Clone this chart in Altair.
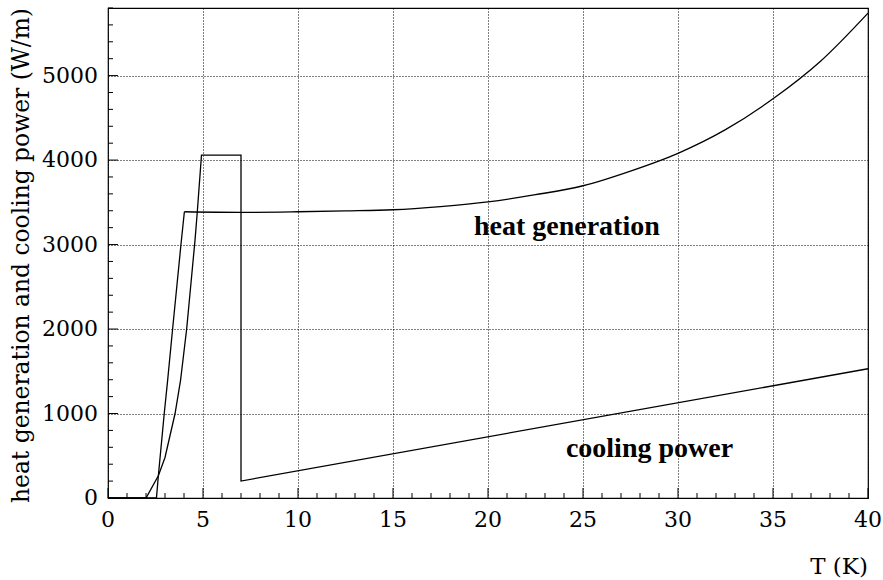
import altair as alt
import pandas as pd

# heat generation curve (T in K, W/m)
heat_T = [0, 2.55, 2.65, 2.96, 3.14, 3.4, 3.84, 4.02]
heat_Q = [0, 0, 264, 1000, 1396, 2000, 3000, 3388]
heat2_T = [4.02, 7.0, 10.0, 12.5, 15.0, 17.5, 20.0, 22.5, 25.0, 27.5, 30.0, 32.5, 35.0, 37.5, 40.0]
heat2_Q = [3388, 3381, 3388, 3398, 3412, 3450, 3505, 3590, 3696, 3870, 4080, 4360, 4725, 5170, 5740]

# cooling power curve
cool_T = [0, 2.0, 2.65, 3.0, 3.53, 3.82, 4.14, 4.58, 4.7, 4.92, 7.0, 7.0, 40.0]
cool_Q = [0, 0, 264, 480, 1000, 1396, 2000, 3053, 3388, 4059, 4059, 201, 1530]

x_major = [0, 5, 10, 15, 20, 25, 30, 35, 40]
x_minor = [v for v in range(0, 41) if v % 5 != 0]
y_major = [0, 1000, 2000, 3000, 4000, 5000]
y_minor = [v for v in range(0, 5801, 200) if v % 1000 != 0]
x_labels = [str(v) for v in x_major]
y_labels = [str(v) for v in y_major]
x_title = "T (K)"
y_title = "heat generation and cooling power (W/m)"

ann_text = ["heat generation", "cooling power"]
ann_T = [24.15, 28.5]
ann_Q = [3112, 489]

FONT = "DejaVu Serif, Liberation Serif, serif"
BFONT = "Liberation Serif"
W, H = 760, 490

df_h1 = pd.DataFrame({"T": heat_T, "Q": heat_Q, "i": range(len(heat_T))})
df_h2 = pd.DataFrame({"T": heat2_T, "Q": heat2_Q, "i": range(len(heat2_T))})
df_c = pd.DataFrame({"T": cool_T, "Q": cool_Q, "i": range(len(cool_T))})

xs = alt.Scale(domain=[0, 40], nice=False, zero=False)
ys = alt.Scale(domain=[0, 5800], nice=False, zero=False)

xaxis = alt.Axis(values=x_major, grid=True, gridColor="black", gridDash=[1, 2], gridOpacity=1,
                 ticks=False, domain=False, labels=False, title=None)
yaxis = alt.Axis(values=y_major, grid=True, gridColor="black", gridDash=[1, 2], gridOpacity=1,
                 ticks=False, domain=False, labels=False, title=None)

base_line = dict(color="black", strokeWidth=1.3)


def X():
    return alt.X("T:Q", scale=xs, axis=xaxis)


def Y():
    return alt.Y("Q:Q", scale=ys, axis=yaxis)


h1 = alt.Chart(df_h1).mark_line(**base_line).encode(x=X(), y=Y(), order="i:Q")
h2 = alt.Chart(df_h2).mark_line(interpolate="monotone", **base_line).encode(x=X(), y=Y(), order="i:Q")
c1 = alt.Chart(df_c).mark_line(**base_line).encode(x=X(), y=Y(), order="i:Q")

xt_major = alt.Chart(pd.DataFrame({"T": x_major})).mark_rule(color="black", strokeWidth=1).encode(
    x=X(), y=alt.value(H), y2=alt.value(H - 10))
xt_minor = alt.Chart(pd.DataFrame({"T": x_minor})).mark_rule(color="black", strokeWidth=1).encode(
    x=X(), y=alt.value(H), y2=alt.value(H - 5))
yt_major = alt.Chart(pd.DataFrame({"Q": y_major})).mark_rule(color="black", strokeWidth=1).encode(
    y=Y(), x=alt.value(0), x2=alt.value(10))
yt_minor = alt.Chart(pd.DataFrame({"Q": y_minor})).mark_rule(color="black", strokeWidth=1).encode(
    y=Y(), x=alt.value(0), x2=alt.value(5))

xl = alt.Chart(pd.DataFrame({"T": x_major, "t": x_labels})).mark_text(
    font=FONT, fontSize=22, color="black", align="center", baseline="top"
).encode(x=X(), y=alt.value(H + 12), text="t:N")
yl = alt.Chart(pd.DataFrame({"Q": y_major, "t": y_labels})).mark_text(
    font=FONT, fontSize=22, color="black", align="right", baseline="middle"
).encode(y=Y(), x=alt.value(-10), text="t:N")

xtitle = alt.Chart(pd.DataFrame({"t": [x_title]})).mark_text(
    font=FONT, fontSize=23, color="black", align="right", baseline="alphabetic"
).encode(x=alt.value(W), y=alt.value(H + 76), text="t:N")
ytitle = alt.Chart(pd.DataFrame({"t": [y_title]})).mark_text(
    font=FONT, fontSize=23.4, color="black", align="right", baseline="middle", angle=270
).encode(x=alt.value(-86), y=alt.value(0), text="t:N")

ann = alt.Chart(pd.DataFrame({"t": ann_text, "T": ann_T, "Q": ann_Q})).mark_text(
    font=BFONT, fontSize=28, fontWeight="bold", color="black", align="center", baseline="alphabetic"
).encode(x=X(), y=Y(), text="t:N")

chart = alt.layer(xt_minor, xt_major, yt_minor, yt_major, h1, h2, c1, xl, yl, xtitle, ytitle, ann).properties(
    width=W, height=H, autosize=alt.AutoSizeParams(type="none"),
    padding={"left": 108, "top": 8, "right": 15, "bottom": 82}, background="white"
).configure_view(stroke="black", strokeWidth=1.2)

chart.save("out.html", embed_options={"renderer": "svg", "actions": False})
